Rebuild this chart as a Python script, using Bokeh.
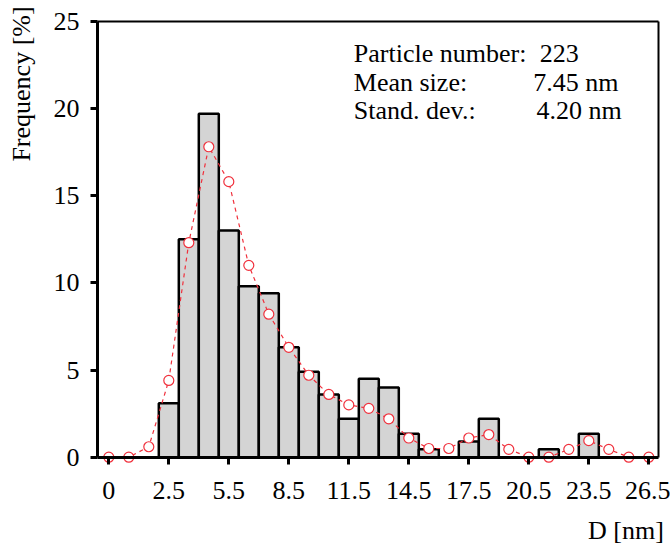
import math
from bokeh.plotting import figure
from bokeh.models import Range1d, FixedTicker, Label, ColumnDataSource, LinearAxis
from bokeh.embed import file_html
from bokeh.resources import INLINE

# ---- data ----
bar_centers = [2.5, 3.5, 4.5, 5.5, 6.5, 7.5, 8.5, 9.5, 10.5, 11.5, 12.5, 13.5,
               14.5, 15.5, 17.5, 18.5, 21.5, 23.5]
bar_freq = [3.1, 12.5, 19.7, 13.0, 9.8, 9.4, 6.3, 4.9, 3.6, 2.2, 4.5, 4.0,
            1.35, 0.45, 0.9, 2.2, 0.45, 1.35]

curve_x = [-0.5, 0.5, 1.5, 2.5, 3.5, 4.5, 5.5, 6.5, 7.5, 8.5, 9.5, 10.5, 11.5,
           12.5, 13.5, 14.5, 15.5, 16.5, 17.5, 18.5, 19.5, 20.5, 21.5, 22.5,
           23.5, 24.5, 25.5, 26.5]
curve_y = [0, 0, 0.6, 4.4, 12.3, 17.8, 15.8, 11.0, 8.2, 6.3, 4.7, 3.6, 3.0,
           2.8, 2.2, 1.1, 0.5, 0.5, 1.1, 1.3, 0.45, 0, 0, 0.45, 0.95, 0.45, 0, 0]

x_ticks = [-0.5, 2.5, 5.5, 8.5, 11.5, 14.5, 17.5, 20.5, 23.5, 26.5]
x_tick_overrides = {-0.5: "0"}
y_ticks = [0, 5, 10, 15, 20, 25]

x_title = "D [nm]"
y_title = "Frequency [%]"
stat_names = ["Particle number:", "Mean size:", "Stand. dev.:"]
stat_values = ["223", "7.45 nm", "4.20 nm"]

FONT = "Liberation Serif"
FS = "26px"
RED = "#f0303c"

# axis box limits (data units)
XL, XR = -1.065, 26.985
YB, YT = 0.0, 25.0

p = figure(width=670, height=548, output_backend="svg", toolbar_location=None,
           x_range=Range1d(-5.915, 27.585), y_range=Range1d(-5.235, 26.187),
           min_border=0, x_axis_location=None, y_axis_location=None)

p.xgrid.visible = False
p.ygrid.visible = False
p.outline_line_color = None
p.background_fill_color = "white"
p.border_fill_color = "white"

src = ColumnDataSource(dict(x=bar_centers, top=bar_freq))
p.vbar(x="x", top="top", bottom=0, width=1.0, source=src,
       fill_color="#d4d4d4", line_color="black", line_width=2.5)

csrc = ColumnDataSource(dict(x=curve_x, y=curve_y))
p.line("x", "y", source=csrc, line_color=RED, line_width=1.2, line_dash="4 4")
p.scatter("x", "y", source=csrc, size=10, fill_color="white",
          line_color=RED, line_width=1.2)


def style(ax, lw):
    ax.axis_line_width = lw
    ax.axis_line_color = "black"
    ax.major_tick_line_width = 3
    ax.major_tick_line_color = "black"
    ax.major_tick_out = 7
    ax.major_tick_in = 0
    ax.minor_tick_line_color = None
    ax.major_label_text_font = FONT
    ax.major_label_text_font_size = FS
    ax.major_label_text_color = "black"


xax = LinearAxis(fixed_location=YB, bounds=(XL, XR),
                 ticker=FixedTicker(ticks=x_ticks),
                 major_label_overrides=x_tick_overrides,
                 major_label_standoff=18)
style(xax, 3)
p.add_layout(xax, "below")

yax = LinearAxis(fixed_location=XL, bounds=(YB, YT),
                 ticker=FixedTicker(ticks=y_ticks), major_label_standoff=11)
style(yax, 3)
p.add_layout(yax, "left")

# plain box edges (top and right), no ticks
tax = LinearAxis(fixed_location=YT, bounds=(XL, XR),
                 ticker=FixedTicker(ticks=[]))
style(tax, 2)
tax.major_tick_line_color = None
p.add_layout(tax, "above")

rax = LinearAxis(fixed_location=XR, bounds=(YB, YT),
                 ticker=FixedTicker(ticks=[]))
style(rax, 2)
rax.major_tick_line_color = None
p.add_layout(rax, "right")

# axis titles
p.add_layout(Label(x=27.25, y=-4.2, text=x_title, text_font=FONT,
                   text_font_size=FS, text_align="right",
                   text_baseline="alphabetic", text_color="black"))
p.add_layout(Label(x=-4.865, y=25.85, text=y_title, text_font=FONT,
                   text_font_size=FS, text_align="right", angle=math.pi / 2,
                   text_baseline="alphabetic", text_color="black"))

name_x = 11.75
value_x = [21.05, 20.72, 20.89]
line_y = [23.17, 21.49, 19.86]
for i in range(3):
    p.add_layout(Label(x=name_x, y=line_y[i], text=stat_names[i],
                       text_font=FONT, text_font_size=FS,
                       text_baseline="alphabetic", text_color="black"))
    p.add_layout(Label(x=value_x[i], y=line_y[i], text=stat_values[i],
                       text_font=FONT, text_font_size=FS,
                       text_baseline="alphabetic", text_color="black"))

open("out.html", "w").write(file_html(p, INLINE))
